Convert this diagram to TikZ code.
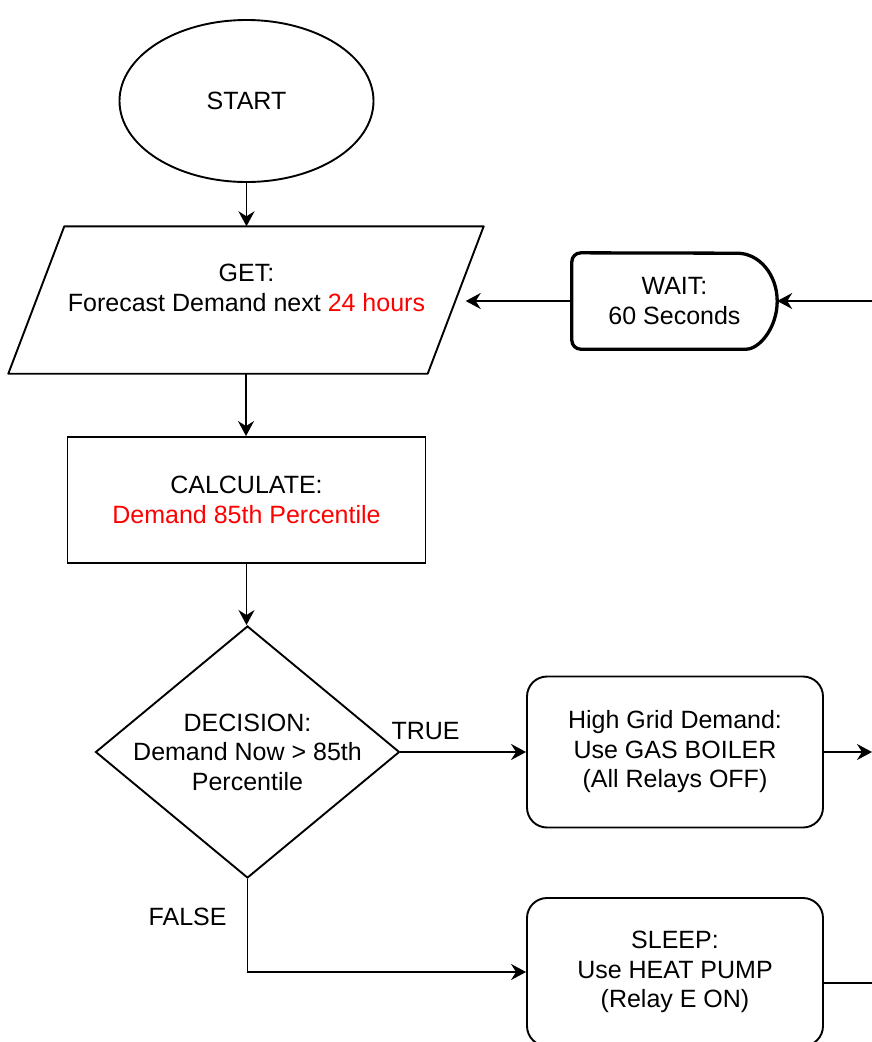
\documentclass[tikz,border=0pt]{standalone}
\usepackage{fontspec}
\setmainfont{Liberation Sans}
\usetikzlibrary{shapes.geometric,arrows.meta}

\begin{document}
\begin{tikzpicture}[x=1pt, y=1pt,
        every node/.style={font=\fontsize{25}{29.5}\selectfont, align=center, inner sep=0pt},
        flowline/.style={line width=1.9pt},
        flowarrow/.style={flowline, -{Stealth[length=15pt, width=16pt, inset=5pt]}},
        thinbox/.style={draw, line width=1.9pt},
        roundbox/.style={thinbox, rounded corners=20pt, minimum width=296, minimum height=151}
    ]
    \useasboundingbox (0,0) rectangle (872,-1042);

    % start
    \node[thinbox, ellipse, minimum width=254, minimum height=162] (start) at (246.5,-101) {START};

    % get: parallelogram drawn round an empty node
    \node[minimum width=419, minimum height=147] (get) at (246,-300) {};
    \draw[flowline, line join=round] ([xshift=28pt]get.north west) -- ([xshift=28pt]get.north east)
        -- ([xshift=-28pt]get.south east) -- ([xshift=-28pt]get.south west) -- cycle;
    \node (gettext) at (246.5,-288) {GET:\\Forecast Demand next \textcolor{red}{24 hours}};

    % wait: delay shape
    \node[minimum width=205, minimum height=96] (wait) at (674.5,-301) {WAIT:\\60 Seconds};
    \draw[line width=3.3pt, line join=round] ([xshift=-40pt]wait.south east)
        arc[start angle=-90, end angle=90, x radius=40pt, y radius=48pt]
        [rounded corners=9pt] -- (wait.north west) -- (wait.south west) -- cycle;

    % calculate
    \node[thinbox, minimum width=358, minimum height=126] (calc) at (246.5,-500)
        {CALCULATE:\\\textcolor{red}{Demand 85th Percentile}};

    % decision
    \node[thinbox, diamond, minimum width=304, minimum height=252] (decision) at (247.5,-752) {};
    \node (decisiontext) at (decision) {DECISION:\\Demand Now > 85th\\Percentile};

    % outcomes
    \node[roundbox] (gas) at (675,-752) {High Grid Demand:\\Use GAS BOILER\\(All Relays OFF)};
    \node[roundbox, minimum height=148] (sleep) at (675,-972) {SLEEP:\\Use HEAT PUMP\\(Relay E ON)};

    % loose ends at the right border
    \coordinate (waitin) at (872,-301);
    \coordinate (gasout) at (872,-752);
    \coordinate (sleepout) at (872,-983);

    % connectors
    \draw[flowarrow] (start.south) -- (start.south |- get.north);
    \draw[flowarrow] (get.south) -- (get.south |- calc.north);
    \draw[flowarrow] (calc.south) -- (calc.south |- decision.north);
    \draw[flowarrow] (waitin) -- (wait.east);
    \draw[flowarrow, shorten >=10pt] (wait.west) -- (get.east |- wait.west);
    \draw[flowarrow] (decision.east) -- node[above=11pt, pos=0.2] {TRUE} (gas.west);
    \draw[flowarrow] (decision.south) -- node[left=20pt, pos=0.41] {FALSE} (decision.south |- sleep.west) -- (sleep.west);
    \draw[flowarrow] (gas.east) -- (gasout);
    \draw[flowline] ([yshift=-11pt]sleep.east) -- (sleepout);
\end{tikzpicture}
\end{document}
